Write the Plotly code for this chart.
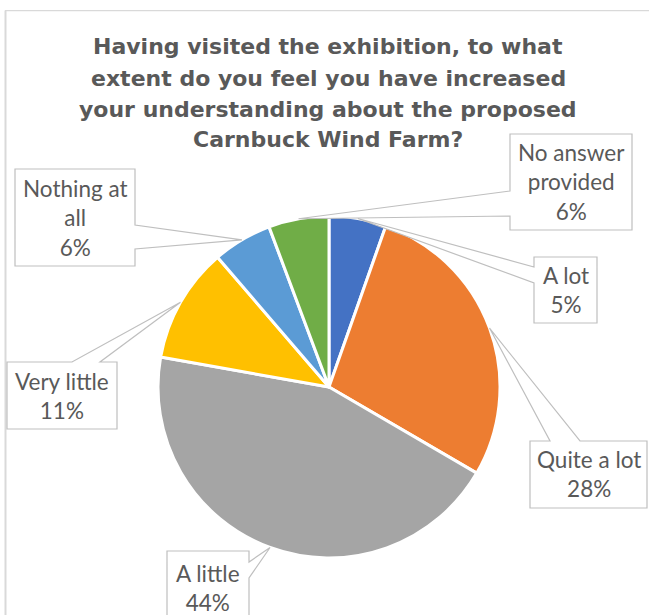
import math
import plotly.graph_objects as go

# ---------------- data ----------------
categories = ["A lot", "Quite a lot", "A little", "Very little", "Nothing at all", "No answer provided"]
values = [5.4, 28.0, 44.4, 10.9, 5.6, 5.7]
colors = ["#4472C4", "#ED7D31", "#A5A5A5", "#FFC000", "#5B9BD5", "#70AD47"]
title_lines = [
    "Having visited the exhibition, to what",
    "extent do you feel you have increased",
    "your understanding about the proposed",
    "Carnbuck Wind Farm?",
]

# ---------------- layout constants (pixels) ----------------
W, H = 649, 615
CX, CY, R = 329, 387, 171          # pie centre / radius in px
wrap = {"No answer provided": "No answer<br>provided", "Nothing at all": "Nothing at<br>all"}
# callout boxes: (x0, y0, x1, y1, side, a, b)
boxes = {
    "No answer provided": (510, 134, 632, 230, "left", 191, 216),
    "A lot": (534, 257, 597, 323, "left", 267, 283),
    "Quite a lot": (530, 441, 647, 508, "top", 550, 580),
    "A little": (167, 551, 249, 640, "right", 562, 578),
    "Very little": (7, 362, 117, 429, "top", 72, 100),
    "Nothing at all": (15, 169, 135, 266, "right", 225, 249),
}
GRID = "#BFBFBF"
TXT = "#595959"


def px(x):
    return x / W


def py(y):
    return 1 - y / H


fig = go.Figure()
fig.add_trace(go.Pie(
    labels=categories,
    values=values,
    sort=False,
    direction="clockwise",
    rotation=0,
    marker=dict(colors=colors, line=dict(color="white", width=3)),
    textinfo="none",
    showlegend=False,
    domain=dict(x=[px(CX - R), px(CX + R)], y=[py(CY + R), py(CY - R)]),
))

total = sum(values)
shapes = []
annotations = []
cum = 0.0
for cat, v in zip(categories, values):
    mid = (cum + v / 2) / total * 2 * math.pi
    cum += v
    tx = CX + R * math.sin(mid)
    ty = CY - R * math.cos(mid)
    x0, y0, x1, y1, side, a, b = boxes[cat]
    if side == "left":
        pts = [(x0, y0), (x1, y0), (x1, y1), (x0, y1), (x0, b), (tx, ty), (x0, a)]
    elif side == "right":
        pts = [(x0, y0), (x1, y0), (x1, a), (tx, ty), (x1, b), (x1, y1), (x0, y1)]
    else:  # top
        pts = [(x0, y0), (a, y0), (tx, ty), (b, y0), (x1, y0), (x1, y1), (x0, y1)]
    path = "M " + " L ".join(f"{px(p[0]):.5f},{py(p[1]):.5f}" for p in pts) + " Z"
    shapes.append(dict(type="path", xref="paper", yref="paper", path=path,
                       fillcolor="white", line=dict(color=GRID, width=1.2), layer="above"))
    pct = round(v / total * 100)
    text = f"{wrap.get(cat, cat)}<br>{pct}%"
    cy_text = (y0 + y1) / 2 if y1 <= H else y0 + 37
    annotations.append(dict(
        x=px((x0 + x1) / 2), y=py(cy_text),
        xref="paper", yref="paper", text=text, showarrow=False,
        xanchor="center", yanchor="middle", align="center",
        font=dict(family="Lato", size=22.5, color=TXT),
    ))

# chart border (left and top)
shapes.append(dict(type="line", xref="paper", yref="paper", x0=px(5.5), x1=px(5.5),
                   y0=py(10.5), y1=py(H + 5), line=dict(color="#D9D9D9", width=2), layer="below"))
shapes.append(dict(type="line", xref="paper", yref="paper", x0=px(5), x1=px(W + 5),
                   y0=py(10.7), y1=py(10.7), line=dict(color="#D9D9D9", width=1.2), layer="below"))

title_y = [47, 78, 109, 139]
for line, ty in zip(title_lines, title_y):
    annotations.append(dict(
        x=px(328), y=py(ty), xref="paper", yref="paper", text=f"<b>{line}</b>",
        showarrow=False, xanchor="center", yanchor="middle",
        font=dict(family="DejaVu Sans", size=22, color=TXT),
    ))

fig.update_layout(
    width=W, height=H,
    margin=dict(l=0, r=0, t=0, b=0),
    paper_bgcolor="white", plot_bgcolor="white",
    shapes=shapes, annotations=annotations,
)
fig.write_html(
    "out.html",
    config={"displayModeBar": False},
    post_script="document.body.style.margin='0';document.body.style.overflow='hidden';",
)
